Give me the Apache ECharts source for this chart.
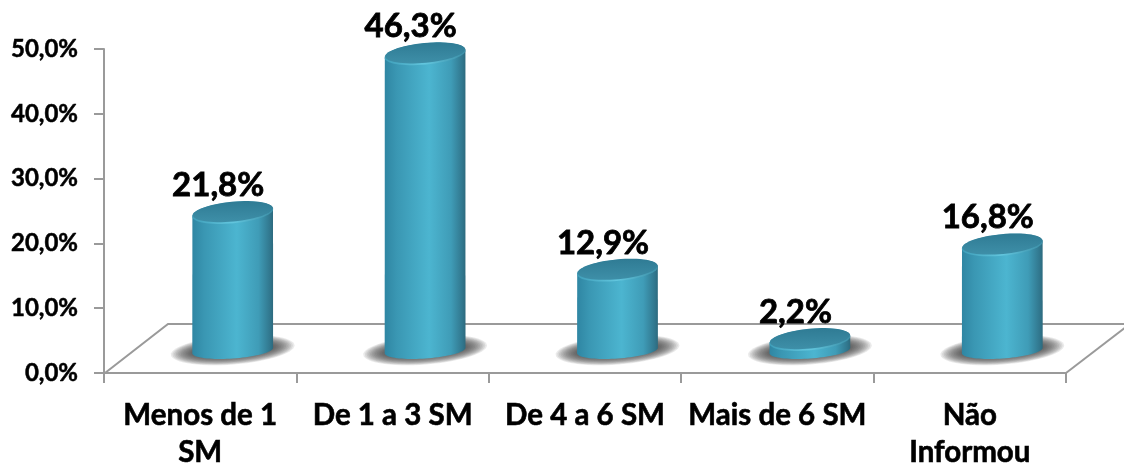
<!DOCTYPE html>
<html>
<head>
<meta charset="utf-8">
<style>html,body{margin:0;padding:0;background:#fff}#c{width:1124px;height:468px}</style>
<script src="https://cdn.jsdelivr.net/npm/echarts@6/dist/echarts.min.js"></script>
</head>
<body>
<div id="c"></div>
<script>
var categories = ['Menos de 1\nSM', 'De 1 a 3 SM', 'De 4 a 6 SM', 'Mais de 6 SM', 'Não\nInformou'];
var values = [21.8, 46.3, 12.9, 2.2, 16.8];
var yTicks = [0, 10, 20, 30, 40, 50];

var FONT = 'Lato, "Open Sans", sans-serif';
var GRAY = '#9a9a9a';
function pct(v) { return v.toFixed(1).replace('.', ',') + '%'; }
function arc(cx, cy, rx, ry, tiltDeg, from, to, n) {
  var a = tiltDeg * Math.PI / 180, pts = [];
  for (var i = 0; i <= n; i++) {
    var t = from + (to - from) * i / n;
    var x = rx * Math.cos(t), y = ry * Math.sin(t);
    pts.push([cx + x * Math.cos(a) - y * Math.sin(a), cy + x * Math.sin(a) + y * Math.cos(a)]);
  }
  return pts;
}
var TAU = Math.PI * 2;

function renderFloor(params) {
  var s = params.coordSys;
  var x0 = s.x, x1 = s.x + s.width, yf = s.y + s.height, yb = yf - 49, dx = 64;
  var st = { stroke: GRAY, lineWidth: 2, fill: null };
  return { type: 'group', children: [
    { type: 'polyline', silent: true, shape: { points: [[x0 + 1, yf], [x0 + dx, yb], [x0 + 1020, yb]] }, style: st },
    { type: 'polyline', silent: true, shape: { points: [[x1, yf], [x1 + dx, yb]] }, style: st }
  ]};
}

function renderBar(params, api) {
  var i = api.value(0), v = api.value(1);
  var p = api.coord([i, v]), b = api.coord([i, 0]);
  var cx = p[0] + 32.5;
  var topY = p[1] - 19.5, baseY = b[1] - 22.5;
  var rx = 40.5, ryTop = 10.2, tilt = -5.5;
  var front = arc(cx, baseY, rx, 8, -4, 0, Math.PI, 40);
  var back = arc(cx, topY, rx, ryTop, tilt, Math.PI, TAU, 40);
  var bodyFill = new echarts.graphic.LinearGradient(0, 0, 1, 0, [
    { offset: 0, color: '#2f86a3' },
    { offset: 0.15, color: '#3a97b3' },
    { offset: 0.55, color: '#4cb5d0' },
    { offset: 0.82, color: '#3f9cb7' },
    { offset: 0.96, color: '#31778e' },
    { offset: 1, color: '#2d6a7e' }
  ]);
  var topFill = new echarts.graphic.LinearGradient(0, 0, 0, 1, [
    { offset: 0, color: '#2f7b94' },
    { offset: 1, color: '#3e8fa8' }
  ]);
  var rimFill = new echarts.graphic.LinearGradient(0, 0, 1, 0, [
    { offset: 0, color: '#3f9fba' },
    { offset: 0.5, color: '#62c6de' },
    { offset: 1, color: '#3c8fa7' }
  ]);
  var kids = [];
  var LAYERS = 14;
  for (var k = 0; k < LAYERS; k++) {
    var f = k / (LAYERS - 1);
    kids.push({ type: 'polygon', silent: true,
      shape: { points: arc(cx, baseY - 0.5, 62 - 22 * f, 14.5 - 8 * f, -4.5, 0, TAU, 60) },
      style: { fill: 'rgba(60,60,60,0.11)' } });
  }
  kids.push(
    { type: 'polygon', silent: true, shape: { points: front.concat(back) }, style: { fill: bodyFill } },
    { type: 'polygon', silent: true, shape: { points: arc(cx, topY + 0.8, rx, ryTop, tilt, 0, TAU, 60) }, style: { fill: rimFill } },
    { type: 'polygon', silent: true, shape: { points: arc(cx, topY - 0.6, rx - 0.5, ryTop - 0.3, tilt, 0, TAU, 60) }, style: { fill: topFill } },
    { type: 'text', silent: true, style: { x: cx - 14.5, y: topY - 27, text: pct(v), fill: '#000', stroke: '#000', lineWidth: 0.8,
      font: 'bold 33px ' + FONT, textAlign: 'center', textVerticalAlign: 'middle' } }
  );
  return { type: 'group', children: kids };
}

var chart = echarts.init(document.getElementById('c'), null, { renderer: 'canvas' });
chart.setOption({
  animation: false,
  backgroundColor: '#fff',
  grid: { left: 104, right: 58, top: 49, bottom: 95, containLabel: false, outerBoundsMode: 'none' },
  xAxis: {
    type: 'category', data: categories,
    axisLine: { lineStyle: { color: GRAY, width: 2 } },
    axisTick: { show: true, alignWithLabel: false, length: 10, lineStyle: { color: GRAY, width: 2 } },
    axisLabel: { interval: 0, color: '#000', fontFamily: FONT, fontWeight: 'bold', fontSize: 29.5, lineHeight: 37, margin: 24, hideOverlap: false, textBorderColor: '#000', textBorderWidth: 0.6 },
    splitLine: { show: false }
  },
  yAxis: {
    type: 'value', min: yTicks[0], max: yTicks[yTicks.length - 1], interval: yTicks[1] - yTicks[0],
    axisLine: { show: true, lineStyle: { color: GRAY, width: 2 } },
    axisTick: { show: true, length: 10, lineStyle: { color: GRAY, width: 2 } },
    axisLabel: { color: '#000', fontFamily: FONT, fontWeight: 'bold', fontSize: 24, margin: 26, textBorderColor: '#000', textBorderWidth: 0.5, formatter: function (v) { return pct(v); } },
    splitLine: { show: false }
  },
  series: [
    { type: 'custom', coordinateSystem: 'cartesian2d', z: 1, clip: false, silent: true, data: [[0, 0]], renderItem: renderFloor, encode: { x: 0, y: 1 } },
    { type: 'custom', coordinateSystem: 'cartesian2d', z: 2, clip: false, silent: true,
      data: values.map(function (v, i) { return [i, v]; }), renderItem: renderBar, encode: { x: 0, y: 1 } }
  ]
});
</script>
</body>
</html>
